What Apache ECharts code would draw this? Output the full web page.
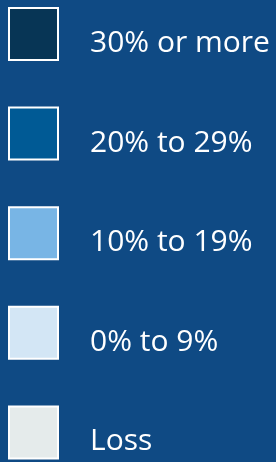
<!DOCTYPE html>
<html>
<head>
<meta charset="utf-8">
<script src="https://cdn.jsdelivr.net/npm/echarts@6/dist/echarts.min.js"></script>
<style>
  html, body { margin: 0; padding: 0; background: #0F4A84; }
  #chart { width: 276px; height: 462px; }
</style>
</head>
<body>
<div id="chart"></div>
<script>
// legend categories and their fill colours
const categories = ['30% or more', '20% to 29%', '10% to 19%', '0% to 9%', 'Loss']
const colors = ['#073555', '#005A95', '#78B5E5', '#D3E6F5', '#E5EBEB']

const chart = echarts.init(document.getElementById('chart'))

const option = {
    backgroundColor: '#0F4A84',
    animation: false,
    xAxis: { show: false },
    yAxis: { show: false },
    legend: {
        orient: 'vertical',
        left: 8,
        top: 7,
        padding: 0,
        icon: 'rect',
        itemWidth: 49,
        itemHeight: 52,
        itemGap: 45.6,
        selectedMode: false,
        itemStyle: {
            borderColor: '#ffffff',
            borderWidth: 2,
            opacity: 1,
        },
        // label sits a bit lower than the middle of its box
        formatter: name => '{t|' + name + '}',
        textStyle: {
            color: '#ffffff',
            fontFamily: 'Open Sans',
            fontSize: 30,
            rich: {
                t: {
                    color: '#ffffff',
                    fontFamily: 'Open Sans',
                    fontSize: 30,
                    lineHeight: 30,
                    padding: [19, 0, 0, 27],
                },
            },
        },
        data: categories,
    },
    // empty series, only here so that the legend has entries
    series: categories.map((name, i) => ({
        name: name,
        type: 'scatter',
        data: [],
        itemStyle: { color: colors[i], opacity: 1 },
    })),
}
chart.setOption(option)
</script>
</body>
</html>
